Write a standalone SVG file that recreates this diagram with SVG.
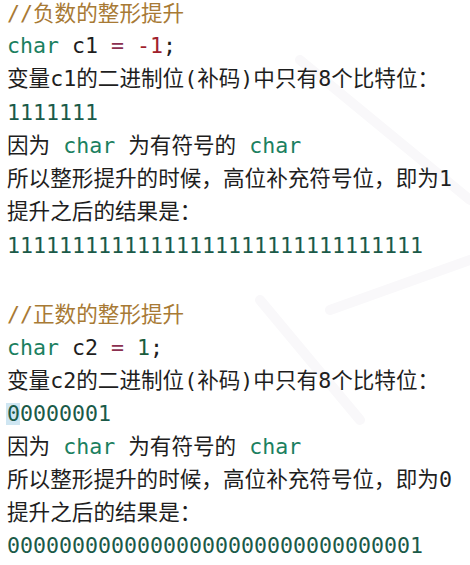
<svg xmlns="http://www.w3.org/2000/svg" width="470" height="565" viewBox="0 0 470 565">
<style>
text{font-family:"DejaVu Sans Mono","Noto Sans CJK SC",monospace;font-size:21.6px;fill:#1e1e1e;white-space:pre}
.cm{fill:#a87a35}
.kw{fill:#1b8060}
.op{fill:#8b3050}
.neg{fill:#a0202c}
.num{fill:#1a5c3c}
.bin{fill:#1a5a48}
.wm{stroke:#f9f8fa;stroke-width:10;fill:none;stroke-linecap:round}
</style>
<rect width="470" height="565" fill="#ffffff"/>
<g id="watermark">
<path class="wm" d="M300 60 L470 200"/>
<path class="wm" d="M260 300 L360 420"/>
<path class="wm" d="M330 310 L470 260"/>
</g>
<g id="negative">
<text class="cm" x="7" y="21">//负数的整形提升</text>
<text x="7" y="53" xml:space="preserve"><tspan class="kw">char</tspan> c1 <tspan class="op">=</tspan> <tspan class="neg">-1</tspan>;</text>
<text x="7" y="86">变量c1的二进制位(补码)中只有8个比特位：</text>
<text class="bin" x="7" y="120">1111111</text>
<text x="7" y="153" xml:space="preserve">因为 <tspan class="kw">char</tspan> 为有符号的 <tspan class="kw">char</tspan></text>
<text x="7" y="186">所以整形提升的时候，高位补充符号位，即为1</text>
<text x="7" y="219">提升之后的结果是：</text>
<text class="bin" x="7" y="253">11111111111111111111111111111111</text>
</g>
<g id="positive">
<text class="cm" x="7" y="322">//正数的整形提升</text>
<text x="7" y="355" xml:space="preserve"><tspan class="kw">char</tspan> c2 <tspan class="op">=</tspan> <tspan class="num">1</tspan>;</text>
<text x="7" y="388">变量c2的二进制位(补码)中只有8个比特位：</text>
<rect x="6" y="403" width="14" height="22" fill="#cfe6f2"/>
<text class="bin" x="7" y="421">00000001</text>
<text x="7" y="454" xml:space="preserve">因为 <tspan class="kw">char</tspan> 为有符号的 <tspan class="kw">char</tspan></text>
<text x="7" y="487">所以整形提升的时候，高位补充符号位，即为0</text>
<text x="7" y="520">提升之后的结果是：</text>
<text class="bin" x="7" y="553">00000000000000000000000000000001</text>
</g>
</svg>
